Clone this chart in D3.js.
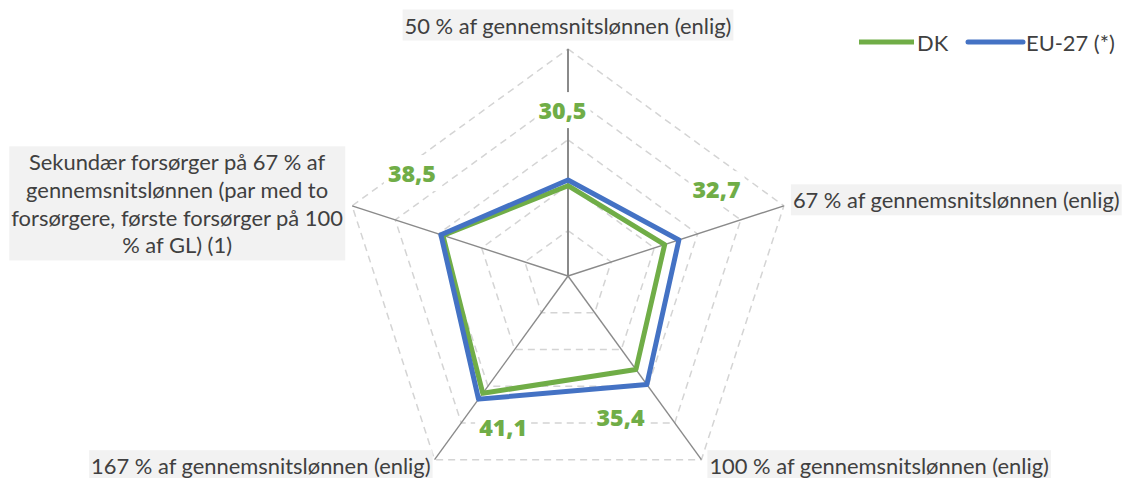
<!DOCTYPE html>
<html><head><meta charset="utf-8">
<script src="https://cdn.jsdelivr.net/npm/d3@7"></script>
<style>html,body{margin:0;padding:0;background:#fff;}svg{display:block;}</style>
</head><body>
<svg id="c" width="1126" height="478"></svg>
<script>
const categories = [
  "50 % af gennemsnitslønnen (enlig)",
  "67 % af gennemsnitslønnen (enlig)",
  "100 % af gennemsnitslønnen (enlig)",
  "167 % af gennemsnitslønnen (enlig)",
  "Sekundær forsørger på 67 % af gennemsnitslønnen (par med to forsørgere, første forsørger på 100 % af GL) (1)"
];
const categoryLines = [
  ["50 % af gennemsnitslønnen (enlig)"],
  ["67 % af gennemsnitslønnen (enlig)"],
  ["100 % af gennemsnitslønnen (enlig)"],
  ["167 % af gennemsnitslønnen (enlig)"],
  ["Sekundær forsørger på 67 % af", "gennemsnitslønnen (par med to", "forsørgere, første forsørger på 100", "% af GL) (1)"]
];
const seriesNames = ["DK", "EU-27 (*)"];
const dkValues = [30.5, 32.7, 35.4, 41.1, 38.5];
const euValues = [31.6, 35.6, 39.0, 42.5, 38.9];
const dkLabels = ["30,5", "32,7", "35,4", "41,1", "38,5"];

const colors = {DK: "#70ad47", EU: "#4472c4"};
const FONT = "Lato, 'Open Sans', sans-serif";
const DFONT = "'Open Sans', Lato, sans-serif";

const svg = d3.select("#c");
const cx = 568, cy = 276, R = 227;
const rScale = d3.scaleLinear().domain([13, 57]).range([0, R]);
const aScale = d3.scaleLinear().domain([0, categories.length]).range([0, 2 * Math.PI]);
const pt = (i, r) => [cx + r * Math.sin(aScale(i)), cy - r * Math.cos(aScale(i))];

function fitSize(text, family, weight, targetW) {
  const t = svg.append("text").attr("font-family", family).attr("font-weight", weight)
    .attr("font-size", 100).text(text);
  const w = t.node().getComputedTextLength();
  t.remove();
  return 100 * targetW / w;
}
const axisFs = fitSize(categories[0], FONT, "normal", 327);
const dataFs = fitSize("30,5", DFONT, "800", 48);

// grid rings
const levels = 5;
const gGrid = svg.append("g");
for (let l = 1; l <= levels; l++) {
  const r = R * l / levels;
  const pts = d3.range(categories.length).map(i => pt(i, r));
  gGrid.append("path")
    .attr("d", d3.line()(pts) + "Z")
    .attr("fill", "none").attr("stroke", "#d4d4d4").attr("stroke-width", 1.5)
    .attr("stroke-dasharray", "7,5");
}
// spokes
categories.forEach((c, i) => {
  const [x, y] = pt(i, R);
  gGrid.append("line").attr("x1", cx).attr("y1", cy).attr("x2", x).attr("y2", y)
    .attr("stroke", "#8a8a8a").attr("stroke-width", i === 0 ? 2 : 1.4);
});

// data labels with white bg (custom placement: angle offset (deg), radius px)
const labelLayout = [[-1.9, 166], [-12.3, 172], [15.5, 150], [-12.7, 164], [15.4, 187]];
const gLab = svg.append("g");
dkLabels.forEach((lab, i) => {
  const ang = aScale(i) + labelLayout[i][0] * Math.PI / 180;
  const r = labelLayout[i][1];
  const x = cx + r * Math.sin(ang), y = cy - r * Math.cos(ang);
  const t = gLab.append("text").attr("x", x).attr("y", y).attr("text-anchor", "middle")
    .attr("dominant-baseline", "central").attr("font-family", DFONT).attr("font-weight", "800")
    .attr("font-size", dataFs).attr("fill", colors.DK).text(lab);
  const b = t.node().getBBox();
  gLab.insert("rect", "text").attr("x", b.x - 4).attr("y", b.y - 2).attr("width", b.width + 8)
    .attr("height", b.height + 4).attr("fill", "#fff");
});

// series lines
const lineGen = d3.lineRadial().angle((d, i) => aScale(i)).radius(d => rScale(d)).curve(d3.curveLinearClosed);
const gData = svg.append("g").attr("transform", `translate(${cx},${cy})`);
gData.append("path").attr("d", lineGen(dkValues)).attr("fill", "none")
  .attr("stroke", colors.DK).attr("stroke-width", 5).attr("stroke-linejoin", "round");
gData.append("path").attr("d", lineGen(euValues)).attr("fill", "none")
  .attr("stroke", colors.EU).attr("stroke-width", 5).attr("stroke-linejoin", "round");

// axis labels
const gAx = svg.append("g");
const lineH = 27.7;
function axisLabel(lines, x, y, anchor) {
  const g = gAx.append("g");
  const t = g.append("text").attr("font-family", FONT).attr("font-size", axisFs)
    .attr("fill", "#404040").attr("text-anchor", anchor);
  lines.forEach((ln, k) => {
    t.append("tspan").attr("x", x).attr("y", y + k * lineH).attr("dominant-baseline", "central").text(ln);
  });
  const b = t.node().getBBox();
  g.insert("rect", "text").attr("x", b.x - 2).attr("y", b.y - 2).attr("width", b.width + 4)
    .attr("height", b.height + 4).attr("fill", "#f2f2f2");
}
{
  const [x0, y0] = pt(0, R);
  axisLabel(categoryLines[0], x0, y0 - 24, "middle");
  const [x1, y1] = pt(1, R);
  axisLabel(categoryLines[1], x1 + 9, y1 - 6, "start");
  const [x2, y2] = pt(2, R);
  axisLabel(categoryLines[2], x2 + 8, y2 + 6, "start");
  const [x3, y3] = pt(3, R);
  axisLabel(categoryLines[3], x3 - 4, y3 + 6, "end");
  const [x4, y4] = pt(4, R);
  axisLabel(categoryLines[4], x4 - 175, y4 - 44, "middle");
}

// legend
const gLeg = svg.append("g");
const legItems = [{name: seriesNames[0], c: colors.DK, x: 859}, {name: seriesNames[1], c: colors.EU, x: 968}];
legItems.forEach(it => {
  gLeg.append("line").attr("x1", it.x).attr("x2", it.x + 55).attr("y1", 42).attr("y2", 42)
    .attr("stroke", it.c).attr("stroke-width", 5).attr("stroke-linecap", it.c === colors.EU ? "round" : "butt");
  gLeg.append("text").attr("x", it.x + 58).attr("y", 42).attr("dominant-baseline", "central")
    .attr("font-family", FONT).attr("font-size", axisFs).attr("fill", "#404040").text(it.name);
});
</script>
</body></html>
